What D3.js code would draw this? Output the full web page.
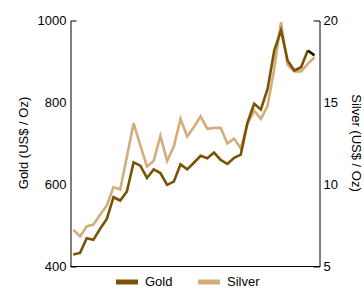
<!DOCTYPE html>
<html>
<head>
<meta charset="utf-8">
<script src="https://cdn.jsdelivr.net/npm/d3@7"></script>
<style>
  body { margin: 0; background: #fff; }
  svg { display: block; font-family: "Liberation Sans", Arial, Helvetica, sans-serif; }
</style>
</head>
<body>
<svg id="chart" width="364" height="289"></svg>
<script>
// monthly averages
const months = d3.range(37)
const gold = [429, 433, 469, 465, 492, 516, 569, 561, 583, 654, 646, 616, 637, 628, 599, 607,
    649, 637, 653, 670, 664, 678, 660, 650, 665, 673, 751, 797, 783, 833, 927, 976,
    902, 878, 886, 927, 915]
const silver = [7.24, 6.83, 7.44, 7.56, 8.15, 8.72, 9.84, 9.70, 11.7, 13.74, 12.38, 11.1, 11.44, 12.97, 11.44, 12.32,
    14.0, 12.93, 13.5, 14.16, 13.4, 13.45, 13.46, 12.5, 12.8, 12.2, 13.7, 14.5, 14.0, 14.8, 17.07, 19.9,
    17.3, 16.9, 16.9, 17.36, 17.76]
const goldTicks = [400, 600, 800, 1000]
const silverTicks = [5, 10, 15, 20]

const goldColor = "#7a5206"
const silverColor = "#d3ad7b"

const plotLeft = 70.5, plotRight = 319.5, plotTop = 20.5, plotBottom = 266.5

const svg = d3.select("#chart")

const x = d3.scaleLinear().domain([-0.42, 36.75]).range([plotLeft, plotRight])
const yGold = d3.scaleLinear().domain([400, 1000]).range([plotBottom, plotTop])
const ySilver = d3.scaleLinear().domain([5, 20]).range([plotBottom, plotTop])

// axes: no inner ticks, short inward outer ticks
svg.append("g")
    .attr("transform", `translate(${plotLeft},0)`)
    .call(d3.axisLeft(yGold).tickValues(goldTicks).tickFormat(d3.format("d"))
        .tickSizeInner(0).tickSizeOuter(-6).tickPadding(4))
svg.append("g")
    .attr("transform", `translate(${plotRight},0)`)
    .call(d3.axisRight(ySilver).tickValues(silverTicks).tickFormat(d3.format("d"))
        .tickSizeInner(0).tickSizeOuter(-6).tickPadding(4))
svg.append("line")
    .attr("x1", plotLeft).attr("x2", plotRight)
    .attr("y1", plotBottom).attr("y2", plotBottom)
    .attr("stroke", "#000")

svg.selectAll(".tick text")
    .attr("font-size", 13)
    .attr("font-family", "Liberation Sans, Arial, sans-serif")
    .attr("fill", "#000")
svg.selectAll(".domain").attr("stroke", "#000")

// lines
const goldLine = d3.line().x((d, i) => x(months[i])).y(d => yGold(d))
const silverLine = d3.line().x((d, i) => x(months[i])).y(d => ySilver(d))

svg.append("path")
    .attr("d", silverLine(silver))
    .attr("fill", "none")
    .attr("stroke", silverColor)
    .attr("stroke-width", 2.6)
svg.append("path")
    .attr("d", goldLine(gold.slice(0, gold.length - 1)))
    .attr("fill", "none")
    .attr("stroke", goldColor)
    .attr("stroke-width", 2.6)
// last gold segment renders near-black in the original
svg.append("path")
    .attr("d", d3.line().x(d => x(d[0])).y(d => yGold(d[1]))([[35, gold[35]], [36, gold[36]]]))
    .attr("fill", "none")
    .attr("stroke", "#1c1200")
    .attr("stroke-width", 2.6)

// axis titles
svg.append("text")
    .attr("transform", `translate(28,143) rotate(-90)`)
    .attr("text-anchor", "middle")
    .attr("font-size", 13)
    .text("Gold (US$ / Oz)")
svg.append("text")
    .attr("transform", `translate(352,143) rotate(90)`)
    .attr("text-anchor", "middle")
    .attr("font-size", 13)
    .text("Silver (US$ / Oz)")

// legend
const legend = [{name: "Gold", color: goldColor, x: 116}, {name: "Silver", color: silverColor, x: 198}]
const lg = svg.append("g").selectAll("g").data(legend).join("g")
    .attr("transform", d => `translate(${d.x},282)`)
lg.append("line")
    .attr("x1", 0).attr("x2", 22)
    .attr("stroke", d => d.color)
    .attr("stroke-width", 5)
lg.append("text")
    .attr("x", 29)
    .attr("dy", "0.33em")
    .attr("font-size", 13)
    .text(d => d.name)
</script>
</body>
</html>
